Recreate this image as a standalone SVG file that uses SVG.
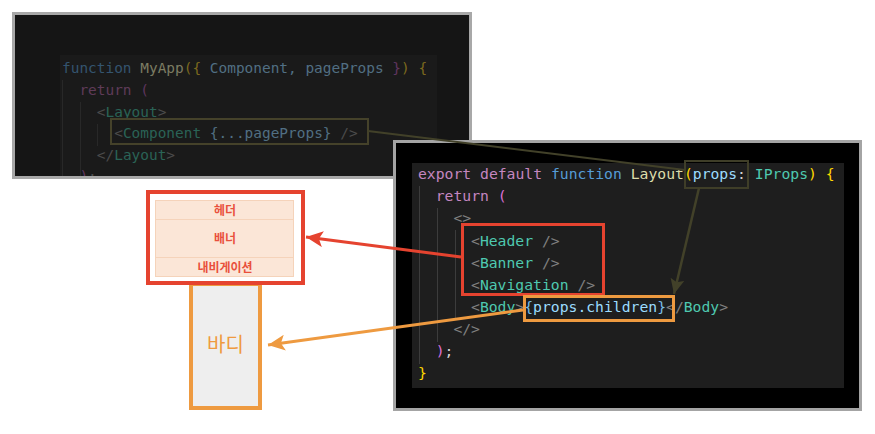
<svg xmlns="http://www.w3.org/2000/svg" width="875" height="434" viewBox="0 0 875 434">
<style>
.mono{font-family:"DejaVu Sans Mono","Liberation Mono",monospace;}
.l{font-size:14.45px;}
.r{font-size:14.73px;}
.kr{font-family:"Noto Sans CJK KR","Noto Sans",sans-serif;}
.lab{font-size:12px;font-weight:bold;fill:#e9503c;text-anchor:middle;}
.guide{stroke-width:1;}
.conn{fill:none;stroke-linecap:butt;}
</style>
<defs>
<marker id="ah-red" markerUnits="userSpaceOnUse" markerWidth="18" markerHeight="16" refX="17" refY="8" orient="auto">
<path d="M0,0 L17,8 L0,16 L4,8 Z" fill="#e5432f"/>
</marker>
<marker id="ah-orange" markerUnits="userSpaceOnUse" markerWidth="18" markerHeight="16" refX="17" refY="8" orient="auto">
<path d="M0,0 L17,8 L0,16 L4,8 Z" fill="#ee9a40"/>
</marker>
<marker id="ah-olive" markerUnits="userSpaceOnUse" markerWidth="16" markerHeight="14" refX="15" refY="7" orient="auto">
<path d="M0,0 L15,7 L0,14 L3,7 Z" fill="#424129"/>
</marker>
<clipPath id="clip-app"><rect x="15" y="15" width="454" height="161"/></clipPath>
</defs>

<g id="panel-app">
<rect x="13.5" y="13.5" width="457" height="164" fill="#151515" stroke="#a8a8a8" stroke-width="3"/>
<g clip-path="url(#clip-app)">
<rect x="60" y="55" width="377" height="130" fill="#1a1a1a"/>
<line class="guide" x1="62.5" y1="80" x2="62.5" y2="180" stroke="#282828"/>
<line class="guide" x1="80.5" y1="102" x2="80.5" y2="180" stroke="#282828"/>
<line class="guide" x1="97.5" y1="124" x2="97.5" y2="146" stroke="#282828"/>
<text class="mono l" x="62" y="73"><tspan fill="#34546f">function</tspan> <tspan fill="#7c7c62">MyApp</tspan><tspan fill="#7c691e">({</tspan> <tspan fill="#516f83">Component, pageProps</tspan> <tspan fill="#5f355f">}</tspan><tspan fill="#7c691e">)</tspan> <tspan fill="#7c691e">{</tspan></text>
<text class="mono l" x="79.4" y="95"><tspan fill="#5f3b58">return</tspan> <tspan fill="#5f355f">(</tspan></text>
<text class="mono l" x="96.8" y="116.5"><tspan fill="#4b4b4b">&lt;</tspan><tspan fill="#2a6356">Layout</tspan><tspan fill="#4b4b4b">&gt;</tspan></text>
<text class="mono l" x="114.2" y="138"><tspan fill="#4b4b4b">&lt;</tspan><tspan fill="#2a6356">Component</tspan> <tspan fill="#516f83">{...pageProps}</tspan> <tspan fill="#4b4b4b">/&gt;</tspan></text>
<text class="mono l" x="96.8" y="159.5"><tspan fill="#4b4b4b">&lt;/</tspan><tspan fill="#2a6356">Layout</tspan><tspan fill="#4b4b4b">&gt;</tspan></text>
<text class="mono l" x="79.4" y="181"><tspan fill="#5f355f">)</tspan><tspan fill="#4b4b4b">;</tspan></text>
</g>
</g>

<g id="hl-component">
<rect x="111" y="119" width="257" height="25" fill="none" stroke="#45422a" stroke-width="2"/>
</g>

<g id="panel-layout">
<rect x="394.5" y="141.5" width="466" height="268" fill="#000000" stroke="#a4a4a4" stroke-width="3"/>
<rect x="412" y="163" width="432" height="225" fill="#1e1e1e"/>
<line class="guide" x1="419.5" y1="186" x2="419.5" y2="364" stroke="#3c3c3c"/>
<line class="guide" x1="437.5" y1="208" x2="437.5" y2="342" stroke="#3c3c3c"/>
<line class="guide" x1="455.5" y1="230" x2="455.5" y2="318" stroke="#3c3c3c"/>
<text class="mono r" x="418" y="179"><tspan fill="#c586c0">export default</tspan> <tspan fill="#569cd6">function</tspan> <tspan fill="#dcdcaa">Layout</tspan><tspan fill="#ffd700">(</tspan><tspan fill="#9cdcfe">props</tspan><tspan fill="#d4d4d4">:</tspan> <tspan fill="#4ec9b0">IProps</tspan><tspan fill="#ffd700">)</tspan> <tspan fill="#ffd700">{</tspan></text>
<text class="mono r" x="435.7" y="201"><tspan fill="#c586c0">return</tspan> <tspan fill="#da70d6">(</tspan></text>
<text class="mono r" x="453.4" y="223"><tspan fill="#808080">&lt;&gt;</tspan></text>
<text class="mono r" x="471" y="246"><tspan fill="#808080">&lt;</tspan><tspan fill="#4ec9b0">Header</tspan> <tspan fill="#808080">/&gt;</tspan></text>
<text class="mono r" x="471" y="268"><tspan fill="#808080">&lt;</tspan><tspan fill="#4ec9b0">Banner</tspan> <tspan fill="#808080">/&gt;</tspan></text>
<text class="mono r" x="471" y="290"><tspan fill="#808080">&lt;</tspan><tspan fill="#4ec9b0">Navigation</tspan> <tspan fill="#808080">/&gt;</tspan></text>
<text class="mono r" x="471" y="312"><tspan fill="#808080">&lt;</tspan><tspan fill="#4ec9b0">Body</tspan><tspan fill="#808080">&gt;</tspan><tspan fill="#79bde8">{</tspan><tspan fill="#9cdcfe">props.children</tspan><tspan fill="#79bde8">}</tspan><tspan fill="#808080">&lt;/</tspan><tspan fill="#4ec9b0">Body</tspan><tspan fill="#808080">&gt;</tspan></text>
<text class="mono r" x="453.4" y="334"><tspan fill="#808080">&lt;/&gt;</tspan></text>
<text class="mono r" x="435.7" y="356"><tspan fill="#da70d6">)</tspan><tspan fill="#d4d4d4">;</tspan></text>
<text class="mono r" x="418" y="378"><tspan fill="#ffd700">}</tspan></text>
</g>

<g id="hl-props">
<rect x="685" y="161" width="63" height="27" fill="none" stroke="#3f3e28" stroke-width="2"/>
</g>
<g id="hl-header-stack">
<rect x="462.5" y="224.5" width="141" height="70" fill="none" stroke="#e5432f" stroke-width="3"/>
</g>
<g id="hl-children">
<rect x="524.5" y="296.5" width="149" height="24" fill="none" stroke="#ee9a40" stroke-width="3"/>
</g>

<g id="node-body">
<rect x="191" y="284" width="69" height="124" fill="#eeeeee" stroke="#ee9a40" stroke-width="4"/>
<text class="kr" x="225.5" y="352" font-size="20" fill="#ee9a40" text-anchor="middle">바디</text>
</g>

<g id="node-header-stack">
<rect x="148" y="192" width="155" height="91" fill="#ffffff" stroke="#e5432f" stroke-width="4"/>
<rect x="155.5" y="200.5" width="138" height="19" fill="#fbe6d7" stroke="#f5d3ba" stroke-width="1"/>
<rect x="155.5" y="219.5" width="138" height="38" fill="#fbe6d7" stroke="#f5d3ba" stroke-width="1"/>
<rect x="155.5" y="257.5" width="138" height="19" fill="#fbe6d7" stroke="#f5d3ba" stroke-width="1"/>
<text class="kr lab" x="225" y="214.5">헤더</text>
<text class="kr lab" x="225" y="243">배너</text>
<text class="kr lab" x="225" y="271.5">내비게이션</text>
</g>

<g id="connectors">
<line class="conn" x1="368" y1="131" x2="685" y2="170" stroke="#424129" stroke-width="2"/>
<line class="conn" x1="699" y1="188" x2="674" y2="294" stroke="#424129" stroke-width="2.5" marker-end="url(#ah-olive)"/>
<line class="conn" x1="461" y1="257" x2="306" y2="237" stroke="#e5432f" stroke-width="3" marker-end="url(#ah-red)"/>
<line class="conn" x1="523" y1="310" x2="268" y2="345" stroke="#ee9a40" stroke-width="3" marker-end="url(#ah-orange)"/>
</g>
</svg>
